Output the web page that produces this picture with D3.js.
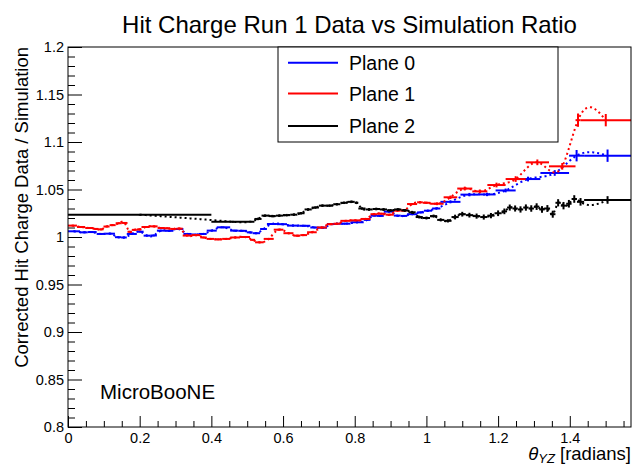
<!DOCTYPE html>
<html><head><meta charset="utf-8">
<script src="https://cdn.jsdelivr.net/npm/d3@7"></script>
<style>body{margin:0;background:#fff} svg{display:block}</style>
</head><body>
<svg id="c" width="639" height="465"></svg>
<script>
// ---------------- data ----------------
const chartTitle = "Hit Charge Run 1 Data vs Simulation Ratio";
const yTitle = "Corrected Hit Charge Data / Simulation";
const xTickValues = [0, 0.2, 0.4, 0.6, 0.8, 1.0, 1.2, 1.4];
const xTickLabels = ["0", "0.2", "0.4", "0.6", "0.8", "1", "1.2", "1.4"];
const yTickValues = [0.8, 0.85, 0.9, 0.95, 1.0, 1.05, 1.1, 1.15, 1.2];
const yTickLabels = ["0.8", "0.85", "0.9", "0.95", "1", "1.05", "1.1", "1.15", "1.2"];
const seriesNames = ["Plane 0", "Plane 1", "Plane 2"];
const seriesColors = ["#0000ff", "#ff0000", "#000000"];

// Plane 0 (blue): bin edges, contents, errors
const plane0Edges = [0, 0.0335, 0.055, 0.080, 0.105, 0.131, 0.148, 0.164, 0.192, 0.211, 0.230, 0.248, 0.270, 0.294, 0.322, 0.345, 0.365, 0.387, 0.415, 0.4525, 0.475, 0.499, 0.515, 0.536, 0.555, 0.583, 0.611, 0.645, 0.676, 0.700, 0.7225, 0.755, 0.788, 0.825, 0.844, 0.862, 0.881, 0.909, 0.928, 0.946, 0.974, 0.993, 1.016, 1.039, 1.095, 1.145, 1.193, 1.249, 1.318, 1.398, 1.44, 1.5708];
const plane0Values = [1.006, 1.0049, 1.0052, 1.0032, 1.0035, 0.9998, 0.9995, 1.0032, 1.0056, 1.0014, 1.0016, 1.0067, 1.0065, 1.0084, 1.0032, 1.0025, 1.0032, 1.0067, 1.0102, 1.0067, 1.0065, 1.0049, 1.004, 1.0084, 1.0137, 1.0135, 1.012, 1.0118, 1.010, 1.0098, 1.0137, 1.014, 1.0155, 1.018, 1.0225, 1.0222, 1.0267, 1.0225, 1.0222, 1.024, 1.0259, 1.0277, 1.030, 1.037, 1.0446, 1.0448, 1.049, 1.061, 1.0674, 1.0856, 1.0856];
const plane0Errors = [0.0009, 0.001, 0.001, 0.001, 0.001, 0.0009, 0.001, 0.001, 0.001, 0.001, 0.001, 0.001, 0.001, 0.001, 0.001, 0.001, 0.001, 0.001, 0.001, 0.001, 0.001, 0.001, 0.001, 0.001, 0.001, 0.001, 0.001, 0.001, 0.001, 0.001, 0.001, 0.001, 0.001, 0.001, 0.001, 0.001, 0.001, 0.001, 0.001, 0.001, 0.0011, 0.0011, 0.0012, 0.0015, 0.0018, 0.0018, 0.002, 0.0025, 0.003, 0.006, 0.0065];

// Plane 1 (red)
const plane1Edges = [0, 0.025, 0.048, 0.071, 0.085, 0.099, 0.116, 0.133, 0.150, 0.166, 0.178, 0.192, 0.205, 0.228, 0.250, 0.268, 0.285, 0.303, 0.320, 0.345, 0.369, 0.387, 0.408, 0.430, 0.4525, 0.480, 0.508, 0.522, 0.546, 0.574, 0.601, 0.629, 0.648, 0.667, 0.694, 0.722, 0.741, 0.760, 0.788, 0.816, 0.844, 0.862, 0.886, 0.909, 0.928, 0.946, 0.974, 0.990, 1.011, 1.048, 1.086, 1.128, 1.170, 1.221, 1.277, 1.342, 1.416, 1.43, 1.5708];
const plane1Values = [1.012, 1.0105, 1.0095, 1.0085, 1.008, 1.011, 1.0125, 1.0145, 1.0148, 1.0055, 1.0075, 1.008, 1.0105, 1.0112, 1.0095, 1.0092, 1.0085, 1.0088, 1.0015, 1.002, 0.9995, 0.998, 0.9975, 0.998, 0.9995, 1.0, 0.997, 0.9944, 0.998, 1.0077, 1.004, 1.0014, 1.002, 1.005, 1.010, 1.0135, 1.014, 1.017, 1.0175, 1.019, 1.024, 1.0245, 1.0235, 1.0277, 1.028, 1.0347, 1.0365, 1.036, 1.035, 1.0418, 1.051, 1.048, 1.0547, 1.061, 1.0786, 1.0744, 1.123, 1.123];
const plane1Errors = [0.0009, 0.001, 0.001, 0.001, 0.001, 0.001, 0.001, 0.001, 0.001, 0.001, 0.001, 0.001, 0.001, 0.001, 0.001, 0.001, 0.001, 0.001, 0.001, 0.001, 0.001, 0.001, 0.001, 0.001, 0.001, 0.001, 0.001, 0.001, 0.001, 0.001, 0.001, 0.001, 0.001, 0.001, 0.001, 0.001, 0.001, 0.001, 0.001, 0.001, 0.001, 0.001, 0.001, 0.001, 0.001, 0.0011, 0.0011, 0.0012, 0.0015, 0.0018, 0.002, 0.002, 0.0025, 0.003, 0.003, 0.0035, 0.007, 0.0065];

// Plane 2 (black)
const plane2Edges = [0, 0.40, 0.52, 0.54, 0.56, 0.58, 0.60, 0.62, 0.64, 0.66, 0.68, 0.70, 0.72, 0.74, 0.76, 0.78, 0.80, 0.81, 0.83, 0.85, 0.87, 0.89, 0.91, 0.93, 0.95, 0.97, 0.99, 1.01, 1.03, 1.05, 1.07, 1.09, 1.11, 1.13, 1.15, 1.17, 1.19, 1.21, 1.225, 1.24, 1.255, 1.27, 1.285, 1.30, 1.315, 1.33, 1.345, 1.36, 1.375, 1.39, 1.405, 1.42, 1.44, 1.5708];
const plane2Values = [1.0235, 1.016, 1.019, 1.0225, 1.022, 1.0225, 1.023, 1.0235, 1.025, 1.029, 1.031, 1.033, 1.033, 1.0345, 1.036, 1.037, 1.036, 1.030, 1.029, 1.0295, 1.029, 1.028, 1.029, 1.028, 1.026, 1.021, 1.020, 1.022, 1.018, 1.017, 1.021, 1.024, 1.023, 1.022, 1.021, 1.0225, 1.025, 1.027, 1.031, 1.030, 1.029, 1.031, 1.030, 1.032, 1.029, 1.030, 1.024, 1.036, 1.033, 1.035, 1.040, 1.037, 1.039];
const plane2Errors = [0.0008, 0.001, 0.0013, 0.0013, 0.0013, 0.0013, 0.0013, 0.0013, 0.0013, 0.0013, 0.0013, 0.0013, 0.0013, 0.0013, 0.0013, 0.0013, 0.0013, 0.0013, 0.0014, 0.0014, 0.0014, 0.0014, 0.0014, 0.0015, 0.0015, 0.0015, 0.0015, 0.0016, 0.0016, 0.0017, 0.0025, 0.0025, 0.0025, 0.0027, 0.0027, 0.0028, 0.003, 0.003, 0.0032, 0.0032, 0.0033, 0.0033, 0.0034, 0.0035, 0.0035, 0.0036, 0.0037, 0.0038, 0.0039, 0.004, 0.004, 0.004, 0.004];

// ---------------- layout ----------------
const W = 639, H = 465;
const L = 68, R = 631, T = 47, B = 427;
const FONT = "'Liberation Sans', Arial, Helvetica, sans-serif";

const svg = d3.select("#c");
svg.append("rect").attr("width", W).attr("height", H).attr("fill", "#fff");

const x = d3.scaleLinear().domain([0, Math.PI / 2]).range([L, R]);
const y = d3.scaleLinear().domain([0.8, 1.2]).range([B, T]);

svg.append("defs").append("clipPath").attr("id", "plotclip")
  .append("rect").attr("x", L).attr("y", T).attr("width", R - L).attr("height", B - T);

// axes (ticks inside)
const xMinor = d3.range(0, 1.5708, 0.05).filter(v => Math.abs(v / 0.2 - Math.round(v / 0.2)) > 1e-6);
const yMinor = d3.range(0.8, 1.2001, 0.01).filter(v => Math.abs(v / 0.05 - Math.round(v / 0.05)) > 1e-6);

const gx = svg.append("g").attr("transform", `translate(0,${B})`)
  .call(d3.axisBottom(x).tickValues(xTickValues).tickFormat((d, i) => xTickLabels[i]).tickSize(-11).tickPadding(6));
const gxm = svg.append("g").attr("transform", `translate(0,${B})`)
  .call(d3.axisBottom(x).tickValues(xMinor).tickFormat("").tickSize(-6));
const gy = svg.append("g").attr("transform", `translate(${L},0)`)
  .call(d3.axisLeft(y).tickValues(yTickValues).tickFormat((d, i) => yTickLabels[i]).tickSize(-14).tickPadding(4));
const gym = svg.append("g").attr("transform", `translate(${L},0)`)
  .call(d3.axisLeft(y).tickValues(yMinor).tickFormat("").tickSize(-7));
[gx, gxm, gy, gym].forEach(g => {
  g.select(".domain").remove();
  g.selectAll("line").attr("stroke", "#000").attr("stroke-width", 1);
  g.selectAll("text").attr("font-family", FONT).attr("font-size", "14.5px").attr("fill", "#000");
});

// natural cubic spline through bin centres
function naturalSpline(xs, ys) {
  const n = xs.length;
  const h = [], al = [], l = [], mu = [], z = [], c = [], b = [], d = [];
  for (let i = 0; i < n - 1; i++) h[i] = xs[i + 1] - xs[i];
  for (let i = 1; i < n - 1; i++) al[i] = 3 / h[i] * (ys[i + 1] - ys[i]) - 3 / h[i - 1] * (ys[i] - ys[i - 1]);
  l[0] = 1; mu[0] = 0; z[0] = 0;
  for (let i = 1; i < n - 1; i++) {
    l[i] = 2 * (xs[i + 1] - xs[i - 1]) - h[i - 1] * mu[i - 1];
    mu[i] = h[i] / l[i];
    z[i] = (al[i] - h[i - 1] * z[i - 1]) / l[i];
  }
  c[n - 1] = 0;
  for (let j = n - 2; j >= 0; j--) {
    c[j] = z[j] - mu[j] * c[j + 1];
    b[j] = (ys[j + 1] - ys[j]) / h[j] - h[j] * (c[j + 1] + 2 * c[j]) / 3;
    d[j] = (c[j + 1] - c[j]) / (3 * h[j]);
  }
  const pts = [];
  for (let j = 0; j < n - 1; j++) {
    const steps = Math.max(2, Math.ceil((x(xs[j + 1]) - x(xs[j])) / 1));
    for (let s = 0; s < steps; s++) {
      const dx = h[j] * s / steps;
      pts.push([xs[j] + dx, ys[j] + b[j] * dx + c[j] * dx * dx + d[j] * dx * dx * dx]);
    }
  }
  pts.push([xs[n - 1], ys[n - 1]]);
  return pts;
}

const planes = [
  { edges: plane0Edges, values: plane0Values, errors: plane0Errors },
  { edges: plane1Edges, values: plane1Values, errors: plane1Errors },
  { edges: plane2Edges, values: plane2Values, errors: plane2Errors }
];

const plotG = svg.append("g").attr("clip-path", "url(#plotclip)");
const line = d3.line().x(d => x(d[0])).y(d => y(d[1]));

planes.forEach((p, k) => {
  const col = seriesColors[k];
  const bins = p.values.map((v, i) => ({ lo: p.edges[i], hi: p.edges[i + 1], v, e: p.errors[i], c: (p.edges[i] + p.edges[i + 1]) / 2 }));
  const g = plotG.append("g");
  // smooth dotted curve
  const sp = naturalSpline(bins.map(b => b.c), bins.map(b => b.v));
  g.append("path").attr("d", line(sp)).attr("fill", "none").attr("stroke", col)
    .attr("stroke-width", 2).attr("stroke-dasharray", "2,3");
  // horizontal bin segments
  g.selectAll("line.h").data(bins).enter().append("line")
    .attr("x1", b => x(b.lo)).attr("x2", b => x(b.hi))
    .attr("y1", b => y(b.v)).attr("y2", b => y(b.v))
    .attr("stroke", col).attr("stroke-width", 2);
  // vertical error bars
  g.selectAll("line.v").data(bins).enter().append("line")
    .attr("x1", b => x(b.c)).attr("x2", b => x(b.c))
    .attr("y1", b => y(b.v - b.e)).attr("y2", b => y(b.v + b.e))
    .attr("stroke", col).attr("stroke-width", 2);
});

// frame
svg.append("rect").attr("x", L).attr("y", T).attr("width", R - L).attr("height", B - T)
  .attr("fill", "none").attr("stroke", "#000").attr("stroke-width", 1);

// legend
const lg = svg.append("g");
lg.append("rect").attr("x", 278).attr("y", T).attr("width", 280).attr("height", 95)
  .attr("fill", "#fff").attr("stroke", "#000").attr("stroke-width", 1);
const legRows = [62.7, 93.5, 126];
seriesNames.forEach((name, i) => {
  lg.append("line").attr("x1", 288).attr("x2", 338).attr("y1", legRows[i]).attr("y2", legRows[i])
    .attr("stroke", seriesColors[i]).attr("stroke-width", 2);
  lg.append("text").attr("x", 349).attr("y", legRows[i] + 7.3).text(name)
    .attr("font-family", FONT).attr("font-size", "19.5px").attr("fill", "#000");
});

// title
svg.append("text").attr("x", (L + R) / 2).attr("y", 33).attr("text-anchor", "middle")
  .attr("font-family", FONT).attr("font-size", "24px").attr("fill", "#000").text(chartTitle);

// MicroBooNE label
svg.append("text").attr("x", 100).attr("y", 399)
  .attr("font-family", FONT).attr("font-size", "20.5px").attr("fill", "#000").text("MicroBooNE");

// y title (aligned to top end of axis, ROOT style)
svg.append("text").attr("transform", `translate(28,${T}) rotate(-90)`).attr("text-anchor", "end")
  .attr("font-family", FONT).attr("font-size", "18.5px").attr("fill", "#000").text(yTitle);

// x title
const xt = svg.append("text").attr("x", R).attr("y", 460).attr("text-anchor", "end")
  .attr("font-family", FONT).attr("font-size", "18.5px").attr("fill", "#000");
xt.append("tspan").attr("font-style", "italic").text("θ");
xt.append("tspan").attr("font-style", "italic").attr("font-size", "13px").attr("dy", 3).text("YZ");
xt.append("tspan").attr("dy", -3).text(" [radians]");
</script>
</body></html>
